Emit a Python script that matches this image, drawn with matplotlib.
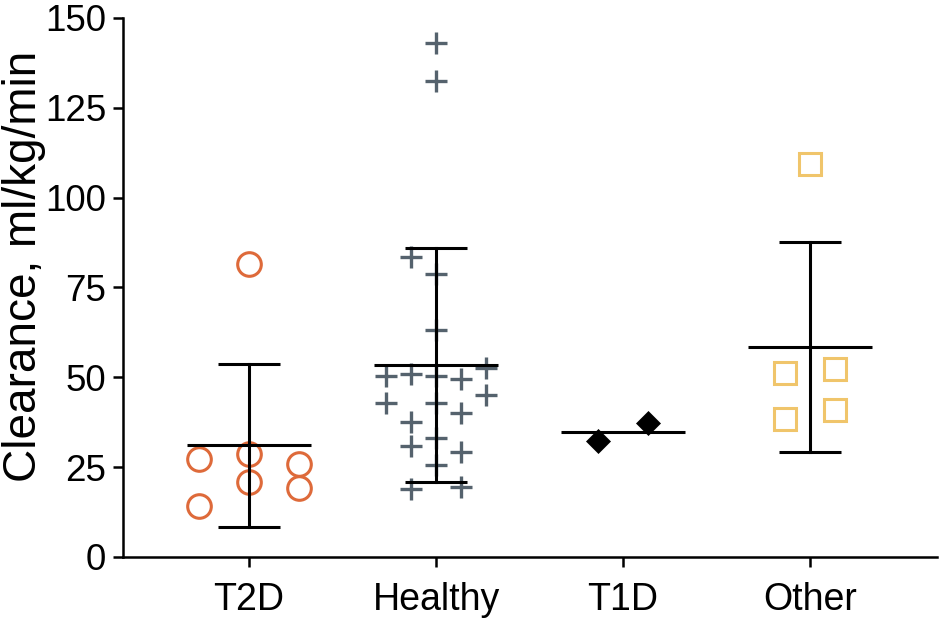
import numpy as np
import matplotlib
matplotlib.use("Agg")
import matplotlib.pyplot as plt

plt.rcParams['font.family'] = ['Liberation Sans', 'DejaVu Sans']

categories = ["T2D", "Healthy", "T1D", "Other"]
yticks = [0, 25, 50, 75, 100, 125, 150]

t2d = [81.4, 27.2, 28.6, 25.8, 20.8, 19.2, 14.2]
healthy = [142.9, 132.5, 83.4, 78.8, 63.2, 52.7, 50.4, 50.8, 50.3, 49.6,
           45.0, 42.9, 42.9, 40.1, 37.6, 30.8, 33.2, 29.3, 25.7, 18.8, 19.5]
t1d = [32.2, 37.4]
other = [109.4, 51.3, 52.2, 38.4, 40.8]

# swarm slot for each point (layout only)
t2d_slot = [0, -2, 0, 2, 0, 2, -2]
healthy_slot = [0, 0, -1, 0, 0, 2, -2, -1, 0, 1, 2, -2, 0, 1, -1, -1, 0, 1, 0, -1, 1]
t1d_slot = [-1, 1]
other_slot = [0, -1, 1, -1, 1]
slot_w = 0.1337

groups = [t2d, healthy, t1d, other]
slots = [t2d_slot, healthy_slot, t1d_slot, other_slot]
styles = [
    dict(marker='o', ms=17, mfc='none', mec='#DE6A3A', mew=2.2, ls='none'),
    dict(marker='+', ms=16, mec='#55626D', mew=2.4, ls='none'),
    dict(marker='D', ms=12, mfc='black', mec='black', mew=0.5, ls='none'),
    dict(marker='s', ms=16.5, mfc='none', mec='#F0C56B', mew=2.2, ls='none'),
]
show_sd = [True, True, False, True]

fig = plt.figure(figsize=(9.43, 6.19), dpi=100)
ax = fig.add_axes([0.1304, 0.1002, 0.8632, 0.8708])

for i, (vals, sl, st) in enumerate(zip(groups, slots, styles)):
    x = i + np.array(sl) * slot_w
    ax.plot(x, vals, zorder=2, **st)
    m = np.mean(vals)
    ax.plot([i - 0.33, i + 0.33], [m, m], color='black', lw=2.2, zorder=3,
            solid_capstyle='butt')
    if show_sd[i]:
        sd = np.std(vals, ddof=1)
        ax.plot([i, i], [m - sd, m + sd], color='black', lw=2.2, zorder=3)
        for yy in (m - sd, m + sd):
            ax.plot([i - 0.165, i + 0.165], [yy, yy], color='black', lw=2.2,
                    zorder=3, solid_capstyle='butt')

ax.set_xlim(-0.674, 3.679)
ax.set_ylim(0, 150)
ax.set_xticks(range(len(categories)))
ax.set_xticklabels(categories, fontsize=27)
ax.set_yticks(yticks)
ax.set_yticklabels([str(t) for t in yticks], fontsize=26.5)
ax.set_ylabel("Clearance, ml/kg/min", fontsize=33)
ax.yaxis.set_label_coords(-0.094, 0.54)
for s in ['top', 'right']:
    ax.spines[s].set_visible(False)
for s in ['left', 'bottom']:
    ax.spines[s].set_linewidth(1.8)
ax.tick_params(axis='both', width=1.8, length=7, direction='out')
ax.tick_params(axis='x', pad=11)
ax.tick_params(axis='y', pad=5)

fig.savefig("out.png", dpi=100)
